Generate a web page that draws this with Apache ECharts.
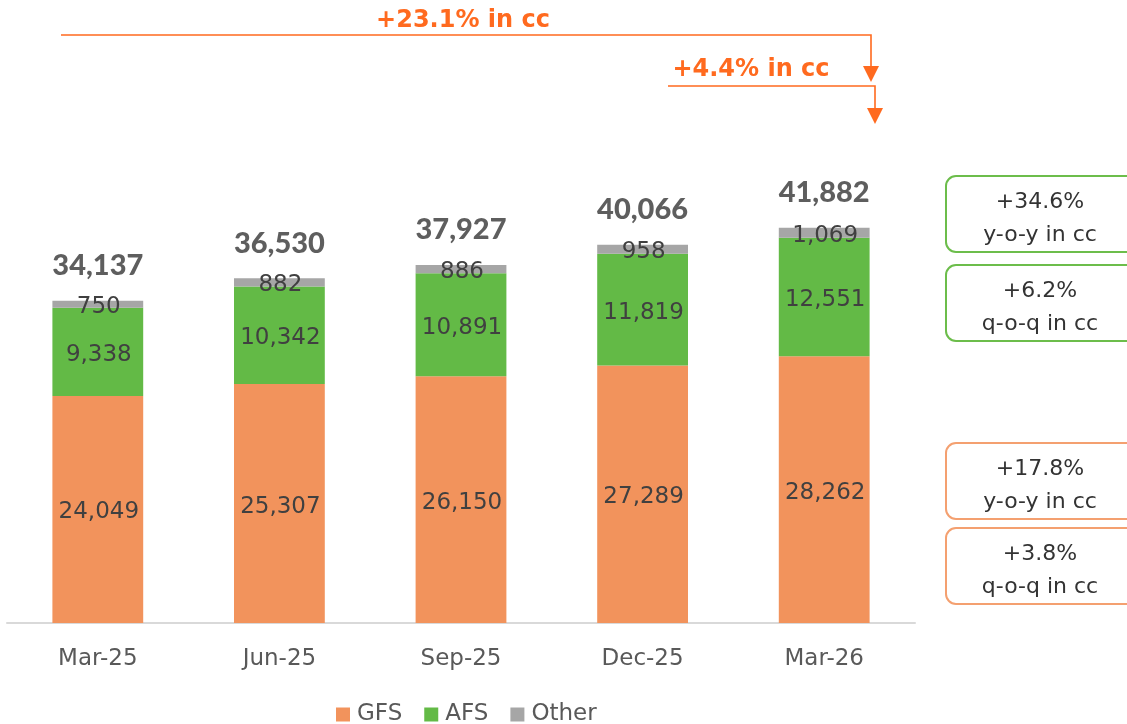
<!DOCTYPE html>
<html>
<head>
<meta charset="utf-8">
<script src="https://cdn.jsdelivr.net/npm/echarts@6/dist/echarts.min.js"></script>
<style>
  html, body { margin: 0; padding: 0; background: #ffffff; }
  #chart { width: 1127px; height: 724px; }
</style>
</head>
<body>
<div id="chart"></div>
<script>
// Quarterly revenue split by segment
const categories = ['Mar-25', 'Jun-25', 'Sep-25', 'Dec-25', 'Mar-26'];
const gfs = [24049, 25307, 26150, 27289, 28262];
const afs = [9338, 10342, 10891, 11819, 12551];
const other = [750, 882, 886, 958, 1069];
const totals = [34137, 36530, 37927, 40066, 41882];

const COLORS = { gfs: '#F2935C', afs: '#63BA46', other: '#A6A6A6' };
const ACCENT = '#FF6A1F';
const FONT = '"DejaVu Sans", sans-serif';
const fmt = v => Number(v).toLocaleString('en-US');

const segLabel = {
  show: true,
  position: 'inside',
  offset: [1, 3],
  fontFamily: FONT,
  fontSize: 23,
  color: '#404040',
  formatter: p => fmt(p.value)
};

function segment(name, data, color) {
  return {
    name, type: 'bar', stack: 'total', data,
    barWidth: '50%',
    itemStyle: { color },
    label: segLabel,
    emphasis: { disabled: true }
  };
}

// Bordered call-out box with two centred lines of text
function box(top, stroke, lines) {
  return [
    {
      type: 'rect',
      shape: { x: 946, y: top, width: 190, height: 76, r: 10 },
      style: { fill: '#ffffff', stroke, lineWidth: 2 },
      z: 10
    },
    {
      type: 'text',
      x: 1040, y: top + 43,
      style: {
        text: lines.join('\n'),
        fontFamily: FONT, fontSize: 22, lineHeight: 33,
        fill: '#333333', align: 'center', verticalAlign: 'middle'
      },
      z: 11
    }
  ];
}

// Growth bracket: horizontal rule, drop line and arrow head
function bracket(x0, x1, y, yEnd) {
  return [
    {
      type: 'polyline',
      shape: { points: [[x0, y], [x1, y], [x1, yEnd]] },
      style: { stroke: ACCENT, lineWidth: 1.6, fill: null }
    },
    {
      type: 'polygon',
      shape: { points: [[x1 - 8, yEnd], [x1 + 8, yEnd], [x1, yEnd + 16]] },
      style: { fill: ACCENT }
    }
  ];
}

const chart = echarts.init(document.getElementById('chart'));
chart.setOption({
  animation: false,
  grid: { left: 7, right: 212, top: 151, bottom: 101 },
  xAxis: {
    type: 'category',
    data: categories,
    axisTick: { show: false },
    axisLine: { lineStyle: { color: '#D9D9D9', width: 2 } },
    axisLabel: { fontFamily: FONT, fontSize: 23, color: '#595959', margin: 25 }
  },
  yAxis: { type: 'value', min: 0, max: 50000, show: false, splitLine: { show: false } },
  legend: {
    data: ['GFS', 'AFS', 'Other'],
    left: 331, top: 698,
    icon: 'rect', itemWidth: 14, itemHeight: 14, itemGap: 22,
    textStyle: { fontFamily: FONT, fontSize: 23, color: '#595959', padding: [0, 0, 0, 2] }
  },
  series: [
    segment('GFS', gfs, COLORS.gfs),
    segment('AFS', afs, COLORS.afs),
    segment('Other', other, COLORS.other),
    {
      name: 'Total', type: 'scatter', data: totals,
      symbolSize: 1, itemStyle: { color: 'rgba(0,0,0,0)' },
      label: {
        show: true, position: 'top', distance: 20,
        fontFamily: 'Lato, sans-serif', fontWeight: 900, fontSize: 29, color: '#363636',
        formatter: p => fmt(p.value)
      },
      emphasis: { disabled: true }
    }
  ],
  graphic: [
    ...bracket(61, 871, 35, 66),
    ...bracket(668, 875, 86, 108),
    {
      type: 'text', x: 463, y: 21,
      style: { text: '+23.1% in cc', fontFamily: FONT, fontWeight: 'bold', fontSize: 24,
               fill: ACCENT, align: 'center', verticalAlign: 'middle' }
    },
    {
      type: 'text', x: 751, y: 70,
      style: { text: '+4.4% in cc', fontFamily: FONT, fontWeight: 'bold', fontSize: 24,
               fill: ACCENT, align: 'center', verticalAlign: 'middle' }
    },
    ...box(176, '#6CBD4B', ['+34.6%', 'y-o-y in cc']),
    ...box(265, '#6CBD4B', ['+6.2%', 'q-o-q in cc']),
    ...box(443, '#F4A070', ['+17.8%', 'y-o-y in cc']),
    ...box(528, '#F4A070', ['+3.8%', 'q-o-q in cc'])
  ]
});
</script>
</body>
</html>
